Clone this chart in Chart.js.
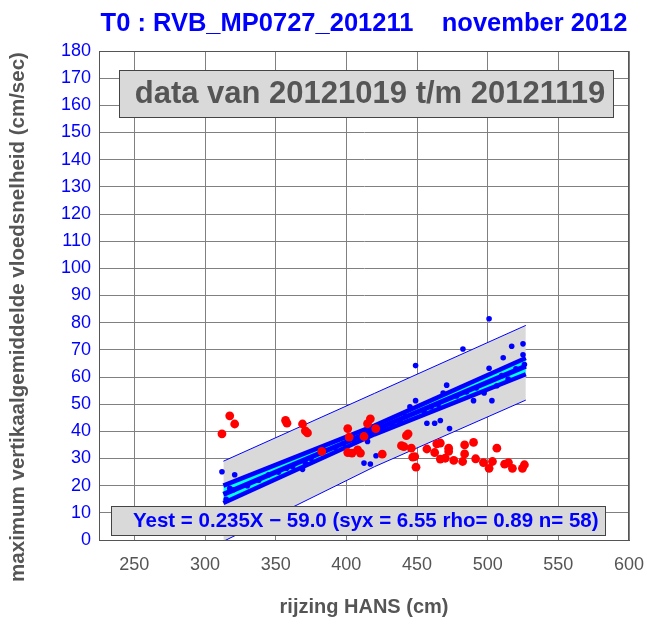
<!DOCTYPE html>
<html>
<head>
<meta charset="utf-8">
<script src="https://cdn.jsdelivr.net/npm/chart.js@4.4.1/dist/chart.umd.min.js"></script>
<style>
  html, body { margin: 0; padding: 0; background: #fff; }
  #wrap { width: 647px; height: 625px; }
</style>
</head>
<body>
<div id="wrap"><canvas id="chart" width="647" height="625"></canvas></div>
<script>
const FONT = "'Liberation Sans', Arial, Helvetica, sans-serif";

const titleText = "T0 : RVB_MP0727_201211    november 2012";
const periodText = "data van 20121019 t/m 20121119";
const fitText = "Yest = 0.235X \u2212 59.0 (syx = 6.55 rho= 0.89 n= 58)";
const xTitle = "rijzing HANS (cm)";
const yTitle = "maximum vertikaalgemiddelde vloedsnelheid (cm/sec)";

const xTicks = [250, 300, 350, 400, 450, 500, 550, 600];

// measured points (blue = used in the fit, red = left out)
const blueX = [312, 321, 317.5, 357.7, 371, 369, 412.5, 417, 421, 415,
  445, 449, 457, 462.5, 466.5, 473, 449, 468.5, 471, 482.5,
  490, 497.5, 501, 501, 503, 506.5, 511, 514.5, 517, 525,
  525, 526, 315, 320, 330, 338, 345, 352, 362, 375,
  385, 392, 398, 405, 410, 418, 425, 432, 438, 442,
  455, 460, 465, 478, 485, 492, 510, 520];
const blueY = [25.1, 24, 19, 26.4, 28.3, 26, 28.3, 28, 31, 36.3,
  49, 51.3, 43, 43, 44, 41, 64.2, 54.1, 57, 70.3,
  51.3, 54.1, 81.4, 63.2, 51.3, 56.8, 67.1, 59.2, 71.3, 72.2,
  68.2, 64.6, 15, 18.5, 20, 22, 24, 25, 27, 30,
  33, 34, 35.5, 37, 37.5, 39.5, 41, 43, 44, 45.5,
  47.5, 49, 50, 53, 54.5, 56, 60.5, 63];

const redX = [317.5, 321, 312, 357, 358, 369, 371, 372.5, 382.6, 401,
  402, 401, 404, 408, 410, 412.5, 415, 417, 420.8, 425.4,
  439, 440.7, 442.5, 443.7, 446, 447, 448.4, 449.3, 457, 462.5,
  464, 466.5, 472.4, 472.4, 466.5, 470, 476, 483.7, 490, 483.7,
  482.3, 491.5, 506.5, 497, 501, 503.4, 512, 514.7, 517.5, 524.6,
  526];
const redY = [45.7, 42.7, 39.1, 44, 43, 42.7, 40.2, 39.4, 32.6, 41,
  37.9, 32.2, 32, 33.2, 32, 38.1, 42.8, 44.6, 41, 31.6,
  34.7, 34.4, 38.4, 39.1, 33.8, 30.5, 30.7, 26.8, 33.5, 32.2,
  35.4, 35.7, 33.8, 32.6, 29.8, 30.1, 29.3, 35, 35.9, 31.7,
  28.9, 29.9, 33.8, 28.5, 26.4, 28.9, 27.9, 28.5, 26.4, 26.4,
  27.7];

// regression line and its confidence band
const fitX = [313, 420, 527];
const fitMid = [16.8, 40.5, 64.0];
const fitUpper = [20.0, 42.1, 67.0];
const fitLower = [13.6, 38.9, 61.0];

// prediction band (grey)
const bandX = [313, 420, 527];
const bandUpper = [29, 54, 79];
const bandLower = [-0.5, 27, 51.5];

const pts = (xs, ys) => xs.map((x, i) => ({ x: x, y: ys[i] }));

const lineSet = (data, color, width, extra) => Object.assign({
  data: data,
  showLine: true,
  borderColor: color,
  borderWidth: width,
  pointRadius: 0,
  tension: 0,
  fill: false
}, extra || {});

const decorations = {
  id: "decorations",
  afterDatasetsDraw(chart) {
    const ctx = chart.ctx;
    const a = chart.chartArea;
    ctx.save();

    // frame
    ctx.strokeStyle = "#555";
    ctx.lineWidth = 1;
    ctx.strokeRect(a.left + 0.5, a.top + 0.5, a.right - a.left - 1, a.bottom - a.top);

    // period box
    ctx.fillStyle = "#d9d9d9";
    ctx.fillRect(119, 70, 494, 47);
    ctx.strokeStyle = "#444";
    ctx.strokeRect(119.5, 70.5, 494, 47);
    ctx.fillStyle = "#555";
    ctx.font = "bold 31px " + FONT;
    ctx.textAlign = "center";
    ctx.textBaseline = "middle";
    ctx.fillText(periodText, 370, 94);

    // fit box
    ctx.fillStyle = "#d9d9d9";
    ctx.fillRect(111, 506, 494, 29);
    ctx.strokeStyle = "#444";
    ctx.strokeRect(111.5, 506.5, 494, 29);
    ctx.fillStyle = "#0000ff";
    ctx.font = "bold 20.5px " + FONT;
    ctx.textAlign = "left";
    ctx.fillText(fitText, 133, 521);

    // title
    ctx.font = "bold 25.5px " + FONT;
    ctx.textAlign = "center";
    ctx.fillStyle = "#0000ff";
    ctx.fillText(titleText, 364, 24);

    // y axis title
    ctx.translate(18, 317);
    ctx.rotate(-Math.PI / 2);
    ctx.fillStyle = "#555";
    ctx.font = "bold 20.5px " + FONT;
    ctx.fillText(yTitle, 0, 0);
    ctx.restore();
  }
};

new Chart(document.getElementById("chart"), {
  type: "scatter",
  data: {
    datasets: [
      { data: pts(redX, redY), backgroundColor: "#ff0000", borderWidth: 0, pointRadius: 4.4 },
      { data: pts(blueX, blueY), backgroundColor: "#0000ff", borderWidth: 0, pointRadius: 2.8 },
      lineSet(pts(fitX, fitMid), "#0000ff", 5),
      lineSet(pts(fitX, fitUpper), "#0000ff", 4.5, { fill: "+1", backgroundColor: "#00ffff" }),
      lineSet(pts(fitX, fitLower), "#0000ff", 4.5),
      lineSet(pts(bandX, bandUpper), "#0000ff", 1, { fill: "+1", backgroundColor: "#d9d9d9" }),
      lineSet(pts(bandX, bandLower), "#0000ff", 1)
    ]
  },
  options: {
    responsive: false,
    animation: false,
    events: [],
    layout: { padding: { top: 51, right: 18, left: 0, bottom: 0 } },
    plugins: {
      legend: { display: false },
      tooltip: { enabled: false },
      title: { display: false },
      filler: { propagate: false, drawTime: "beforeDatasetsDraw" }
    },
    scales: {
      x: {
        type: "linear",
        min: 225,
        max: 600,
        afterBuildTicks: (s) => { s.ticks = xTicks.map(v => ({ value: v })); },
        afterFit: (s) => { s.height = 85; s.paddingLeft = 0; s.paddingRight = 0; },
        grid: { color: "#808080", lineWidth: 1, drawTicks: false },
        border: { color: "#555", width: 1 },
        ticks: { color: "#555", font: { family: FONT, size: 18 }, padding: 14, maxRotation: 0 },
        title: {
          display: true,
          text: xTitle,
          color: "#555",
          font: { family: FONT, size: 20, weight: "bold" },
          padding: { top: 0, bottom: 6 }
        }
      },
      y: {
        min: 0,
        max: 180,
        afterFit: (s) => { s.width = 99; s.paddingTop = 0; s.paddingBottom = 0; },
        grid: { color: "#808080", lineWidth: 1, drawTicks: false },
        border: { color: "#555", width: 1 },
        ticks: { stepSize: 10, color: "#0000ff", font: { family: FONT, size: 18 }, padding: 8 }
      }
    }
  },
  plugins: [decorations]
});
</script>
</body>
</html>
